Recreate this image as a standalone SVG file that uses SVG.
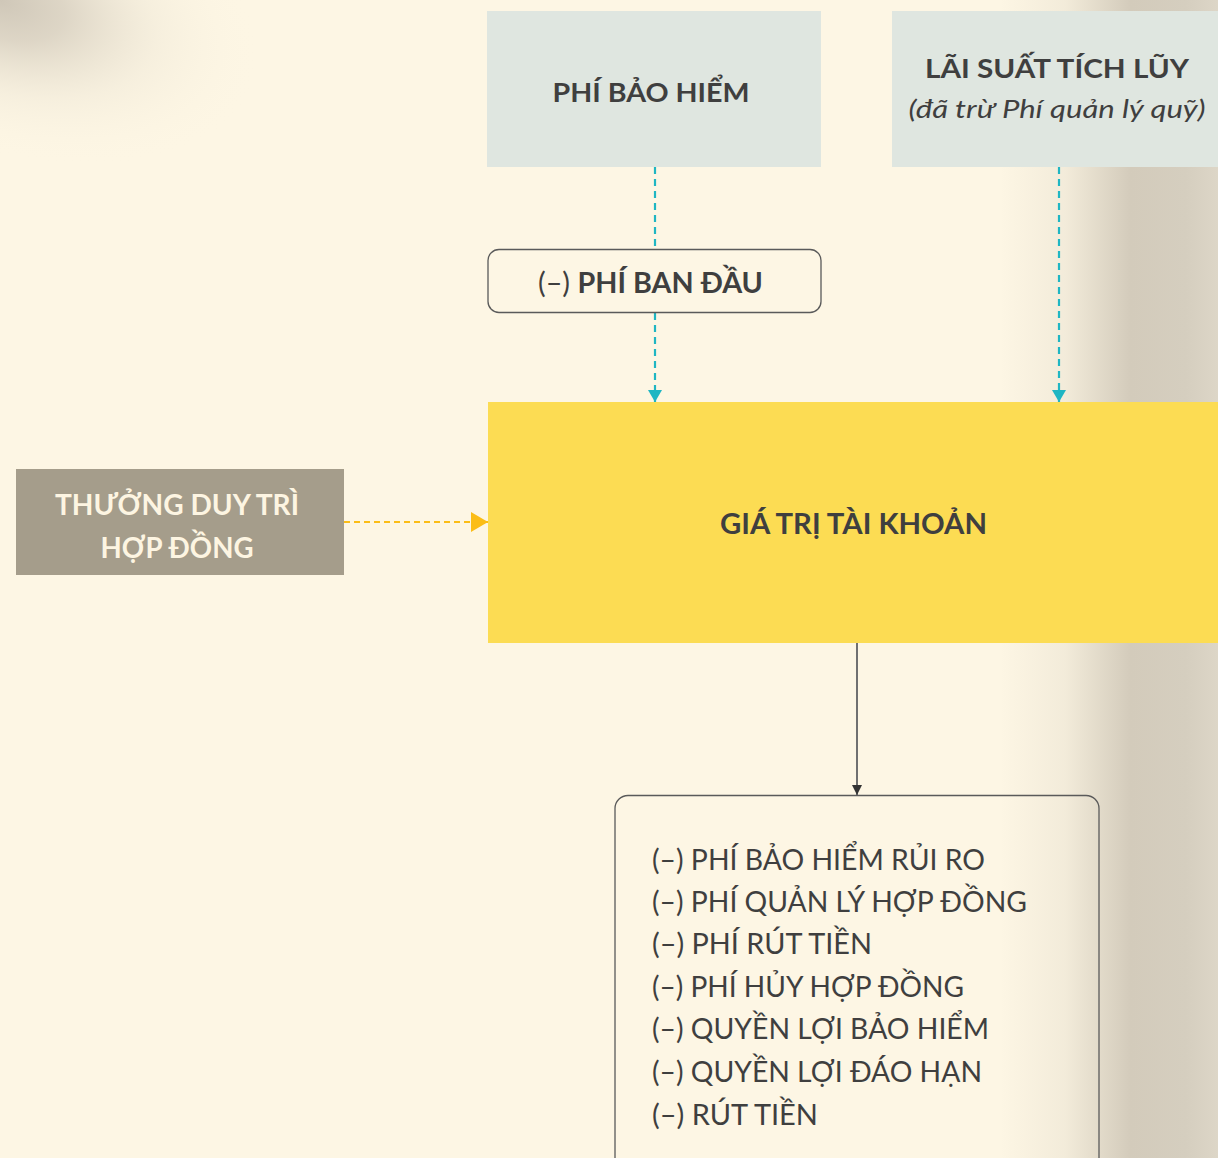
<svg xmlns="http://www.w3.org/2000/svg" width="1218" height="1158" viewBox="0 0 1218 1158">
<style>
.t{font-family:Lato,"Open Sans","Liberation Sans",sans-serif;fill:#3f3f3f}
.b{font-weight:700}
.c{text-anchor:middle}
.dash-c{stroke:#1fb6c3;stroke-width:2.2;stroke-dasharray:7 5;fill:none}
.dash-y{stroke:#fbbd17;stroke-width:2;stroke-dasharray:6 4;fill:none}
.box{fill:none;stroke:#5a5a5a;stroke-width:1.3}
</style>
<defs>
<linearGradient id="rshade" gradientUnits="userSpaceOnUse" x1="1000" y1="0" x2="1218" y2="0">
<stop offset="0" stop-color="#d3cbbb" stop-opacity="0"/>
<stop offset="0.3" stop-color="#d3cbbb" stop-opacity="0.25"/>
<stop offset="0.6" stop-color="#d3cbbb" stop-opacity="1"/>
<stop offset="0.85" stop-color="#d5cebf" stop-opacity="1"/>
<stop offset="1" stop-color="#ddd6c7" stop-opacity="1"/>
</linearGradient>
<radialGradient id="tlshade" gradientUnits="userSpaceOnUse" cx="0" cy="0" r="1" gradientTransform="rotate(18) scale(270,150)">
<stop offset="0" stop-color="#cfc7b8" stop-opacity="1"/>
<stop offset="0.25" stop-color="#d3cbbc" stop-opacity="0.75"/>
<stop offset="0.6" stop-color="#e6dfcf" stop-opacity="0.3"/>
<stop offset="1" stop-color="#fdf6e4" stop-opacity="0"/>
</radialGradient>
<marker id="acyan" viewBox="0 0 12 14" refX="12" refY="7" markerWidth="12" markerHeight="14" markerUnits="userSpaceOnUse" orient="auto">
<path d="M0,0 L12,7 L0,14 Z" fill="#1fb6c3"/>
</marker>
<marker id="ayel" viewBox="0 0 17 20" refX="17" refY="10" markerWidth="17" markerHeight="20" markerUnits="userSpaceOnUse" orient="auto">
<path d="M0,0 L17,10 L0,20 Z" fill="#fbbd17"/>
</marker>
<marker id="adark" viewBox="0 0 10 10" refX="10" refY="5" markerWidth="10" markerHeight="10" markerUnits="userSpaceOnUse" orient="auto">
<path d="M0,0 L10,5 L0,10 Z" fill="#333"/>
</marker>
</defs>
<rect width="1218" height="1158" fill="#fdf6e4"/>
<rect width="1218" height="1158" fill="url(#rshade)"/>
<rect width="420" height="260" fill="url(#tlshade)"/>

<g id="connectors">
<line class="dash-c" x1="655" y1="167" x2="655" y2="249"/>
<line class="dash-c" x1="655" y1="313" x2="655" y2="402" marker-end="url(#acyan)"/>
<line class="dash-c" x1="1059" y1="167" x2="1059" y2="402" marker-end="url(#acyan)"/>
<line class="dash-y" x1="344" y1="522" x2="488" y2="522" marker-end="url(#ayel)"/>
<line x1="857" y1="643" x2="857" y2="795" stroke="#707070" stroke-width="2" marker-end="url(#adark)"/>
</g>

<g id="phi-bao-hiem">
<rect x="487" y="11" width="334" height="156" fill="#dfe6e0"/>
<text class="t b c" x="651" y="102" font-size="27" textLength="197" lengthAdjust="spacingAndGlyphs">PHÍ BẢO HIỂM</text>
</g>

<g id="lai-suat">
<rect x="892" y="11" width="330" height="156" fill="#dfe6e0"/>
<text class="t b c" x="1057" y="78" font-size="27" textLength="264" lengthAdjust="spacingAndGlyphs">LÃI SUẤT TÍCH LŨY</text>
<text class="t c" x="1057" y="118" font-size="26" font-style="italic" textLength="297" lengthAdjust="spacingAndGlyphs">(đã trừ Phí quản lý quỹ)</text>
</g>

<g id="phi-ban-dau">
<rect x="488" y="249.5" width="333" height="63" rx="11" fill="#fdf6e4" stroke="#5a5a5a" stroke-width="1.3"/>
<text class="t c" x="650.5" y="293" font-size="28" textLength="225" lengthAdjust="spacingAndGlyphs"><tspan font-weight="400">(–) </tspan><tspan font-weight="700">PHÍ BAN ĐẦU</tspan></text>
</g>

<g id="thuong-duy-tri">
<rect x="16" y="469" width="328" height="106" fill="#a59d8b"/>
<text class="t b c" x="177" y="515" font-size="29" style="fill:#fdf5e2" textLength="244" lengthAdjust="spacingAndGlyphs">THƯỞNG DUY TRÌ</text>
<text class="t b c" x="177" y="558" font-size="29" style="fill:#fdf5e2" textLength="153" lengthAdjust="spacingAndGlyphs">HỢP ĐỒNG</text>
</g>

<g id="gia-tri-tai-khoan">
<rect x="488" y="402" width="740" height="241" fill="#fcdc53"/>
<text class="t b c" x="853.5" y="534" font-size="29" textLength="267" lengthAdjust="spacingAndGlyphs">GIÁ TRỊ TÀI KHOẢN</text>
</g>

<g id="khau-tru">
<rect x="615" y="795.5" width="484" height="380" rx="13" class="box"/>
<text class="t" x="652" y="870" font-size="28" textLength="333" lengthAdjust="spacingAndGlyphs">(–) PHÍ BẢO HIỂM RỦI RO</text>
<text class="t" x="652" y="912" font-size="28" textLength="375" lengthAdjust="spacingAndGlyphs">(–) PHÍ QUẢN LÝ HỢP ĐỒNG</text>
<text class="t" x="652" y="954" font-size="28" textLength="220" lengthAdjust="spacingAndGlyphs">(–) PHÍ RÚT TIỀN</text>
<text class="t" x="652" y="997" font-size="28" textLength="312" lengthAdjust="spacingAndGlyphs">(–) PHÍ HỦY HỢP ĐỒNG</text>
<text class="t" x="652" y="1039" font-size="28" textLength="337" lengthAdjust="spacingAndGlyphs">(–) QUYỀN LỢI BẢO HIỂM</text>
<text class="t" x="652" y="1082" font-size="28" textLength="330" lengthAdjust="spacingAndGlyphs">(–) QUYỀN LỢI ĐÁO HẠN</text>
<text class="t" x="652" y="1125" font-size="28" textLength="166" lengthAdjust="spacingAndGlyphs">(–) RÚT TIỀN</text>
</g>
</svg>
